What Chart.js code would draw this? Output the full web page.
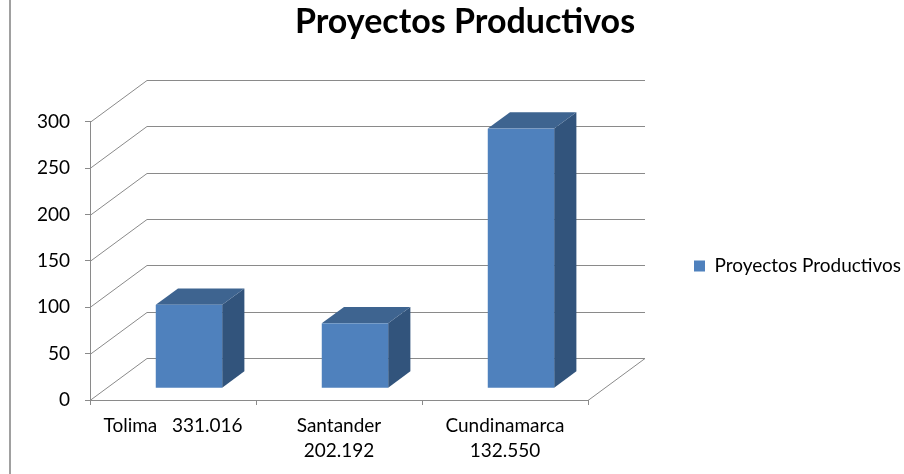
<!DOCTYPE html>
<html>
<head>
<meta charset="utf-8">
<script src="https://cdn.jsdelivr.net/npm/chart.js@4/dist/chart.umd.min.js"></script>
<style>
  html, body { margin: 0; padding: 0; background: #fff; }
  canvas { display: block; }
</style>
</head>
<body>
<canvas id="chart" width="904" height="474"></canvas>
<script>
// data
const categories = ['Tolima   331.016', ['Santander', '202.192'], ['Cundinamarca', '132.550']];
const proyectos = [90, 70, 280];
const yTicks = [0, 50, 100, 150, 200, 250, 300];
const seriesName = 'Proyectos Productivos';

// 3d look: depth of the box and where the bars sit inside it
const DX = 57, DY = -42;
const F1 = 0.28, F2 = 0.67;
const gridColor = '#8a8a8a';
const front = '#4f81bd', topFace = '#3e6490', sideFace = '#32547c';
const fontName = 'Lato';

const box3d = {
  id: 'box3d',
  beforeDraw(chart) {
    // left edge of the chart frame
    const ctx = chart.ctx;
    ctx.save();
    ctx.fillStyle = '#a0a0a0';
    ctx.fillRect(9, 0, 2, chart.height);
    ctx.restore();
  },
  beforeDatasetsDraw(chart) {
    const { ctx, chartArea: a, scales: { y } } = chart;
    ctx.save();
    ctx.strokeStyle = gridColor;
    ctx.lineWidth = 1;

    // walls + floor
    yTicks.forEach(v => {
      const py = Math.round(y.getPixelForValue(v)) + 0.5;
      ctx.beginPath();
      ctx.moveTo(a.left, py);
      ctx.lineTo(a.left + DX, py + DY);
      ctx.lineTo(a.right + DX, py + DY);
      ctx.stroke();
    });
    const p0 = Math.round(y.getPixelForValue(0)) + 0.5;
    ctx.beginPath();
    ctx.moveTo(a.right, p0);
    ctx.lineTo(a.right + DX, p0 + DY);
    ctx.stroke();

    // bars
    const fx = DX * F1, fy = DY * F1;
    const tx = DX * (F2 - F1), ty = DY * (F2 - F1);
    chart.getDatasetMeta(0).data.forEach(bar => {
      const p = bar.getProps(['x', 'y', 'base', 'width'], true);
      const l = p.x - p.width / 2 + fx, r = p.x + p.width / 2 + fx;
      const t = p.y + fy, b = p.base + fy;

      ctx.fillStyle = sideFace;
      ctx.beginPath();
      ctx.moveTo(r, t); ctx.lineTo(r + tx, t + ty); ctx.lineTo(r + tx, b + ty); ctx.lineTo(r, b);
      ctx.closePath(); ctx.fill();

      ctx.fillStyle = topFace;
      ctx.beginPath();
      ctx.moveTo(l, t); ctx.lineTo(l + tx, t + ty); ctx.lineTo(r + tx, t + ty); ctx.lineTo(r, t);
      ctx.closePath(); ctx.fill();

      ctx.fillStyle = front;
      ctx.fillRect(l, t, r - l, b - t);
    });
    ctx.restore();
    return false;
  }
};

const ctx = document.getElementById('chart').getContext('2d');
const chart = new Chart(ctx, {
  type: 'bar',
  data: {
    labels: categories,
    datasets: [{
      label: seriesName,
      data: proyectos,
      backgroundColor: front,
      categoryPercentage: 1,
      barPercentage: 0.4
    }]
  },
  options: {
    responsive: false,
    animation: false,
    layout: { padding: { left: 26, right: 0, top: 0, bottom: 0 } },
    plugins: {
      title: {
        display: true,
        text: seriesName,
        color: '#000',
        font: { family: fontName, size: 34, weight: 'bold', lineHeight: 1.2 },
        padding: { top: 2, bottom: 79 }
      },
      legend: {
        position: 'right',
        fullSize: false,
        maxWidth: 316,
        // empty title only nudges the item a few px down
        title: { display: true, text: '', padding: 0, font: { size: 10, lineHeight: 1 } },
        labels: {
          color: '#000',
          boxWidth: 11,
          boxHeight: 11,
          padding: 106,
          font: { family: fontName, size: 19 }
        }
      },
      tooltip: { enabled: false }
    },
    scales: {
      x: {
        afterFit: s => { s.height = 74; },
        grid: { drawOnChartArea: false, tickLength: 5, color: gridColor },
        border: { color: gridColor },
        ticks: { color: '#000', padding: 8, maxRotation: 0, autoSkip: false,
                 font: { family: fontName, size: 19, lineHeight: 1.32 } }
      },
      y: {
        min: 0,
        max: 300,
        afterFit: s => { s.width = 64; },
        grid: { drawOnChartArea: false, tickLength: 5, color: gridColor },
        border: { color: gridColor },
        ticks: { stepSize: 50, color: '#000', padding: 15,
                 font: { family: fontName, size: 19 } }
      }
    }
  },
  plugins: [box3d]
});
</script>
</body>
</html>
